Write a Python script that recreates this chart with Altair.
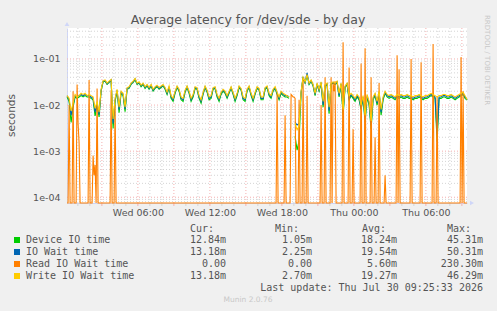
import altair as alt
import pandas as pd
from datetime import datetime, timedelta

# ---------------- data (10-minute samples, Wed 00:06 -> Thu 09:26) ----------------
write_v = [
    0.016, 0.014, 0.0075, 0.011, 0.017, 0.015, 0.016, 0.018, 0.017, 0.018,
    0.016, 0.017, 0.016, 0.015, 0.0085, 0.012, 0.007, 0.022, 0.034, 0.035,
    0.030, 0.033, 0.036, 0.005, 0.014, 0.022, 0.009, 0.020, 0.018, 0.009,
    0.024, 0.025, 0.030, 0.033, 0.038, 0.030, 0.032, 0.027, 0.030, 0.025,
    0.028, 0.024, 0.028, 0.022, 0.025, 0.027, 0.024, 0.026, 0.028, 0.024,
    0.019, 0.026, 0.016, 0.014, 0.020, 0.026, 0.022, 0.015, 0.014, 0.021,
    0.026, 0.020, 0.014, 0.017, 0.025, 0.024, 0.016, 0.013, 0.019, 0.026,
    0.021, 0.015, 0.016, 0.024, 0.025, 0.017, 0.014, 0.019, 0.022, 0.020,
    0.016, 0.020, 0.025, 0.019, 0.014, 0.018, 0.026, 0.023, 0.015, 0.014,
    0.022, 0.026, 0.018, 0.014, 0.019, 0.025, 0.023, 0.015, 0.015, 0.024,
    0.026, 0.018, 0.016, 0.022, 0.025, 0.019, 0.015, 0.020, 0.018, 0.017,
    0.016, 0.015, None, None, 0.0040, 0.0029, 0.0035, 0.020, 0.040, 0.032,
    0.046, 0.030, 0.035, 0.028, 0.018, 0.030, 0.022, 0.032, 0.012, 0.028,
    0.030, 0.009, 0.030, 0.032, 0.030, 0.033, 0.018, 0.030, 0.008, 0.026,
    0.030, 0.016, 0.018, 0.016, 0.014, 0.017, 0.015, 0.010, 0.016, 0.006,
    0.017, 0.012, 0.0045, 0.015, 0.018, 0.012, 0.020, 0.008, 0.015, 0.020,
    0.017, 0.016, 0.017, 0.016, 0.015, 0.017, 0.016, 0.017, 0.016, 0.016,
    0.017, 0.016, 0.016, 0.015, 0.016, 0.016, 0.017, 0.016, 0.015, 0.016,
    0.016, 0.017, 0.018, 0.017, 0.016, 0.015, 0.016, 0.016, 0.017, 0.017,
    0.016, 0.016, 0.017, 0.016, 0.015, 0.016, 0.017, 0.018, 0.019, 0.016, 0.0132,
]
device_v = [
    0.015, 0.012, 0.0042, 0.009, 0.015, 0.014, 0.015, 0.016, 0.015, 0.016,
    0.015, 0.015, 0.014, 0.013, 0.0058, 0.010, 0.0055, 0.020, 0.032, 0.033,
    0.028, 0.031, 0.034, 0.0031, 0.012, 0.020, 0.0068, 0.018, 0.016, 0.0072,
    0.022, 0.023, 0.028, 0.031, 0.035, 0.028, 0.030, 0.025, 0.028, 0.023,
    0.026, 0.022, 0.026, 0.020, 0.023, 0.025, 0.022, 0.024, 0.026, 0.022,
    0.017, 0.024, 0.014, 0.012, 0.018, 0.024, 0.020, 0.013, 0.012, 0.019,
    0.024, 0.018, 0.012, 0.015, 0.023, 0.022, 0.014, 0.011, 0.017, 0.024,
    0.019, 0.013, 0.014, 0.022, 0.023, 0.015, 0.012, 0.017, 0.020, 0.018,
    0.014, 0.018, 0.023, 0.017, 0.012, 0.016, 0.024, 0.021, 0.013, 0.012,
    0.020, 0.024, 0.016, 0.012, 0.017, 0.023, 0.021, 0.013, 0.013, 0.022,
    0.024, 0.016, 0.014, 0.020, 0.023, 0.017, 0.013, 0.018, 0.016, 0.015,
    0.015, 0.014, None, None, 0.0021, 0.00105, 0.0017, 0.018, 0.038, 0.030,
    0.045, 0.028, 0.033, 0.026, 0.016, 0.028, 0.020, 0.030, 0.009, 0.026,
    0.028, 0.0065, 0.028, 0.030, 0.028, 0.031, 0.015, 0.028, 0.006, 0.024,
    0.028, 0.013, 0.016, 0.014, 0.012, 0.015, 0.013, 0.008, 0.014, 0.0042,
    0.015, 0.010, 0.003, 0.013, 0.016, 0.010, 0.018, 0.006, 0.013, 0.018,
    0.015, 0.014, 0.015, 0.014, 0.013, 0.015, 0.014, 0.015, 0.014, 0.014,
    0.015, 0.014, 0.014, 0.013, 0.014, 0.014, 0.015, 0.014, 0.013, 0.014,
    0.014, 0.015, 0.016, 0.015, 0.014, 0.0016, 0.014, 0.014, 0.015, 0.015,
    0.014, 0.014, 0.015, 0.014, 0.013, 0.014, 0.015, 0.016, 0.017, 0.014, 0.0128,
]
iowait_v = [
    0.016, 0.013, 0.0060, 0.010, 0.016, 0.015, 0.016, 0.017, 0.016, 0.017,
    0.016, 0.016, 0.015, 0.014, 0.0070, 0.011, 0.0062, 0.021, 0.033, 0.034,
    0.029, 0.032, 0.035, 0.0040, 0.013, 0.021, 0.0080, 0.019, 0.017, 0.0082,
    0.023, 0.024, 0.029, 0.032, 0.037, 0.029, 0.031, 0.026, 0.029, 0.024,
    0.027, 0.023, 0.027, 0.021, 0.024, 0.026, 0.023, 0.025, 0.027, 0.023,
    0.018, 0.025, 0.015, 0.013, 0.019, 0.025, 0.021, 0.014, 0.013, 0.020,
    0.025, 0.019, 0.013, 0.016, 0.024, 0.023, 0.015, 0.012, 0.018, 0.025,
    0.020, 0.014, 0.015, 0.023, 0.024, 0.016, 0.013, 0.018, 0.021, 0.019,
    0.015, 0.019, 0.024, 0.018, 0.013, 0.017, 0.025, 0.022, 0.014, 0.013,
    0.021, 0.025, 0.017, 0.013, 0.018, 0.024, 0.022, 0.014, 0.014, 0.023,
    0.025, 0.017, 0.015, 0.021, 0.024, 0.018, 0.014, 0.019, 0.017, 0.016,
    0.016, 0.015, None, None, 0.0042, 0.0037, 0.0040, 0.019, 0.041, 0.031,
    0.050, 0.029, 0.034, 0.027, 0.017, 0.029, 0.021, 0.031, 0.010, 0.027,
    0.029, 0.0075, 0.029, 0.031, 0.029, 0.032, 0.016, 0.029, 0.0070, 0.025,
    0.029, 0.014, 0.017, 0.015, 0.013, 0.016, 0.014, 0.0085, 0.015, 0.0050,
    0.016, 0.011, 0.0036, 0.014, 0.017, 0.011, 0.019, 0.0070, 0.014, 0.019,
    0.016, 0.015, 0.016, 0.015, 0.014, 0.016, 0.015, 0.016, 0.015, 0.015,
    0.016, 0.015, 0.015, 0.014, 0.015, 0.015, 0.016, 0.015, 0.014, 0.015,
    0.015, 0.016, 0.017, 0.016, 0.015, 0.0023, 0.015, 0.015, 0.016, 0.016,
    0.015, 0.015, 0.016, 0.015, 0.014, 0.015, 0.016, 0.017, 0.018, 0.015, 0.0132,
]
# Read IO wait: 0 at every 5-minute sample except these (5-minute sample index, value)
read_idx = [2, 6, 10, 11, 12, 22, 26, 27, 28, 30, 44, 48,
            210, 218, 224, 225, 226, 227, 228, 232, 236, 240, 254, 258,
            264, 266, 267, 268, 276, 282, 286, 294, 298, 304, 308, 312, 318,
            330, 332, 344, 354, 366, 370, 394, 396]
read_val = [0.010, 0.020, 0.028, 0.004, 0.0015, 0.035, 0.0008, 0.0003, 0.0005, 0.023, 0.021, 0.010,
            0.018, 0.006, 0.017, 0.016, 0.015, 0.015, 0.014, 0.013, 0.038, 0.016, 0.010, 0.040,
            0.040, 0.030, 0.020, 0.033, 0.23, 0.065, 0.003, 0.08, 0.17, 0.04, 0.002, 0.03, 0.0003,
            0.12, 0.06, 0.10, 0.085, 0.21, 0.015, 0.11, 0.02]
READ_SAMPLES = 401

series_names = ["Device IO time", "IO Wait time", "Read IO Wait time", "Write IO Wait time"]
series_colors = ["#00cc00", "#0066b3", "#ff8000", "#ffcc00"]
cur_txt = ["12.84m", "13.18m", "0.00", "13.18m"]
min_txt = ["1.05m", "2.25m", "0.00", "2.70m"]
avg_txt = ["18.24m", "19.54m", "5.60m", "19.27m"]
max_txt = ["45.31m", "50.31m", "230.30m", "46.29m"]
tick_hours = [6, 12, 18, 24, 30]

TITLE = "Average latency for /dev/sde - by day"
LAST_UPDATE = "Last update: Thu Jul 30 09:25:33 2026"

# ---------------- helpers ----------------
START = datetime(2026, 7, 29, 0, 6)
DAY0 = datetime(2026, 7, 29, 0, 0)
FLOOR = 1e-6  # zero readings sit on the bottom of the log scale


def series_df(vals, step_min):
    rows, seg = [], 0
    for i, v in enumerate(vals):
        if v is None:
            seg += 1
            continue
        t = START + timedelta(minutes=step_min * i)
        rows.append({"time": t.strftime("%Y-%m-%dT%H:%M:%S"),
                     "value": v if v > 0 else FLOOR, "seg": seg})
    return pd.DataFrame(rows)


read_full = [0.0] * READ_SAMPLES
for k, v in zip(read_idx, read_val):
    read_full[k] = v


def dt(d):
    return alt.DateTime(year=d.year, month=d.month, date=d.day,
                        hours=d.hour, minutes=d.minute, seconds=d.second)


x_scale = alt.Scale(domain=[dt(datetime(2026, 7, 29, 0, 5, 33)),
                            dt(datetime(2026, 7, 30, 9, 25, 33))])
y_scale = alt.Scale(type="log", domain=[7.5e-5, 0.47], clamp=True)

FONT = "DejaVu Sans"
MONO = "DejaVu Sans Mono"
TXT = "#555555"
AXIS_C = "#CFD6F8"
GRID_MINOR = "#d4d4d4"
GRID_MAJOR = "#f4b0b0"

ax_x = alt.Axis(values=[dt(DAY0 + timedelta(hours=h)) for h in tick_hours],
                format="%a %H:%M", grid=False, ticks=False, domainColor=AXIS_C,
                labelFont=FONT, labelFontSize=9.5, labelColor=TXT, labelPadding=4,
                title=None)
ax_y = alt.Axis(values=[1e-4, 1e-3, 1e-2, 1e-1],
                labelExpr="'1e-0' + round(-log(datum.value)/LN10)",
                grid=False, ticks=False, domainColor=AXIS_C,
                labelFont=FONT, labelFontSize=9.5, labelColor=TXT, labelPadding=7,
                title="seconds", titleFont=FONT, titleFontSize=10.5,
                titleFontWeight="normal", titleColor=TXT,
                titleX=-56, titleY=87, titleAngle=270,
                titleAlign="center", titleBaseline="middle")

layers = []

# horizontal grid
minor_h = [m * 10.0 ** e for e in range(-5, 0) for m in range(2, 10)
           if 7.5e-5 <= m * 10.0 ** e <= 0.47]
major_h = [1e-4, 1e-3, 1e-2, 1e-1]
layers.append(alt.Chart(pd.DataFrame({"v": minor_h})).mark_rule(
    color=GRID_MINOR, strokeDash=[1, 2], strokeWidth=1).encode(
    y=alt.Y("v:Q", scale=y_scale, axis=ax_y)))
layers.append(alt.Chart(pd.DataFrame({"v": major_h})).mark_rule(
    color=GRID_MAJOR, strokeDash=[1, 2], strokeWidth=1).encode(
    y=alt.Y("v:Q", scale=y_scale, axis=ax_y)))

# vertical grid (every hour, red every 3 hours)
hours = list(range(1, 34))
minor_t = [(DAY0 + timedelta(hours=h)).strftime("%Y-%m-%dT%H:%M:%S") for h in hours if h % 3]
major_t = [(DAY0 + timedelta(hours=h)).strftime("%Y-%m-%dT%H:%M:%S") for h in hours if h % 3 == 0]
for tl, col in ((minor_t, GRID_MINOR), (major_t, GRID_MAJOR)):
    df = pd.DataFrame({"time": tl})
    layers.append(alt.Chart(df).mark_rule(color=col, strokeDash=[1, 2], strokeWidth=1).encode(
        x=alt.X("time:T", scale=x_scale, axis=ax_x)))
    layers.append(alt.Chart(df).mark_rule(color=col, strokeWidth=1).encode(
        x=alt.X("time:T", scale=x_scale, axis=ax_x),
        y=alt.value(175), y2=alt.value(178)))

# data lines, drawn in legend order
for df, col in zip([series_df(device_v, 10), series_df(iowait_v, 10),
                    series_df(read_full, 5), series_df(write_v, 10)], series_colors):
    layers.append(alt.Chart(df).mark_line(color=col, strokeWidth=1.1).encode(
        x=alt.X("time:T", scale=x_scale, axis=ax_x),
        y=alt.Y("value:Q", scale=y_scale, axis=ax_y),
        detail="seg:N"))


def txt(s, x, y, **kw):
    return alt.Chart(pd.DataFrame({"label": [s]})).mark_text(**kw).encode(
        text="label:N", x=alt.value(x), y=alt.value(y))


# axis arrows
layers.append(alt.Chart(pd.DataFrame({"a": [0]})).mark_point(
    shape="triangle-up", filled=True, size=22, color=AXIS_C, opacity=1).encode(
    x=alt.value(0), y=alt.value(-4)))
layers.append(alt.Chart(pd.DataFrame({"a": [0]})).mark_point(
    shape="triangle-right", filled=True, size=22, color=AXIS_C, opacity=1).encode(
    x=alt.value(405), y=alt.value(175)))

# title and side texts
layers.append(txt(TITLE, 181, -4.5, font=FONT, fontSize=12.5, color=TXT,
                  align="center", baseline="alphabetic"))
layers.append(txt("RRDTOOL / TOBI OETIKER", 420, -13, font=FONT, fontSize=7,
                  color="#c8c8c8", angle=90, align="left", baseline="middle"))
layers.append(txt("Munin 2.0.76", 181, 272, font=FONT, fontSize=7.5,
                  color="#c8c8c8", align="center", baseline="middle"))

# legend
mono = dict(font=MONO, fontSize=10, color=TXT, baseline="middle")
for lab, x in (("Cur:", 123), ("Min:", 208), ("Avg:", 295), ("Max:", 380)):
    layers.append(txt(lab, x, 200.5, align="left", **mono))
for k in range(len(series_names)):
    y = 212 + 12 * k
    layers.append(alt.Chart(pd.DataFrame({"a": [0]})).mark_square(
        size=36, filled=True, color=series_colors[k], opacity=1).encode(
        x=alt.value(-50), y=alt.value(y)))
    layers.append(txt(series_names[k], -41, y, align="left", **mono))
    for vals, x in ((cur_txt, 159), (min_txt, 245), (avg_txt, 330), (max_txt, 416)):
        layers.append(txt(vals[k], x, y, align="right", **mono))
layers.append(txt(LAST_UPDATE, 416, 260, align="right", **mono))

chart = alt.layer(*layers).properties(
    width=400, height=175, background="#F0F0F0",
    padding={"left": 67, "top": 28, "right": 30, "bottom": 108},
    autosize=alt.AutoSizeParams(type="none"),
).configure_view(fill="white", strokeWidth=0)

chart.save("out.html", embed_options={"renderer": "svg", "actions": False})
